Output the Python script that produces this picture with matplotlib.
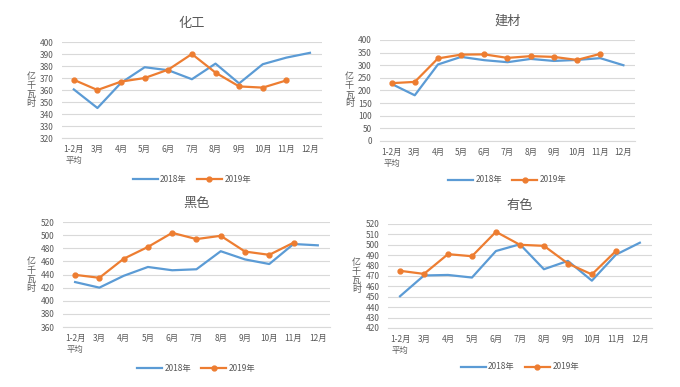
import numpy as np
from matplotlib import pyplot as plt

plt.rcParams['font.family'] = ['Noto Sans CJK SC', 'DejaVu Sans']

#%% data
months = ["1-2月\n平均", "3月", "4月", "5月", "6月", "7月", "8月", "9月", "10月", "11月", "12月"]

chem_2018 = [360.5, 345, 366, 379, 376.5, 369, 382, 365.5, 381.5, 387, 391]
chem_2019 = [368.5, 360, 367, 370, 377, 390, 374.5, 363, 362, 368]

build_2018 = [226, 181, 303, 333, 320, 312, 325, 317, 321, 328, 300]
build_2019 = [229, 234, 327, 342, 343, 329, 336, 333, 321, 345]

ferrous_2018 = [428.5, 420, 438, 451.5, 446.5, 448, 475.5, 463, 456, 486.5, 484.5]
ferrous_2019 = [439.5, 435, 464, 482, 503.5, 494, 499, 475, 470, 488.5]

nonferrous_2018 = [450.5, 470.5, 471, 468.5, 494, 500.5, 476.5, 484.5, 465.5, 490.5, 502]
nonferrous_2019 = [475, 472, 491, 489, 512.5, 500, 499, 482, 471.5, 494]

BLUE = '#5B9BD5'
ORANGE = '#ED7D31'
GRID = '#D9D9D9'
TXT = '#595959'

fig = plt.figure(figsize=(6.8, 3.87), dpi=100)

panels = [
    # title, rect, s2018, s2019, ylim, step, legend y (fig frac)
    ("化工", [0.0912, 0.6434, 0.382, 0.248], chem_2018, chem_2019, (320, 400), 10, 1 - 179/387),
    ("建材", [0.5588, 0.6357, 0.375, 0.261], build_2018, build_2019, (0, 400), 50, 1 - 180/387),
    ("黑色", [0.0926, 0.155, 0.3926, 0.2713], ferrous_2018, ferrous_2019, (360, 520), 20, 1 - 368/387),
    ("有色", [0.5706, 0.1525, 0.388, 0.2687], nonferrous_2018, nonferrous_2019, (420, 520), 10, 1 - 367/387),
]

for title, rect, s18, s19, ylim, step, leg_y in panels:
    ax = fig.add_axes(rect)
    x = np.arange(len(months))
    ax.plot(x, s18, color=BLUE, lw=1.6, label="2018年")
    ax.plot(x[:len(s19)], s19, color=ORANGE, lw=1.6, marker='o', ms=3.5, label="2019年")
    ax.set_xlim(-0.5, len(months) - 0.5)
    ax.set_ylim(*ylim)
    ax.set_yticks(np.arange(ylim[0], ylim[1] + step, step))
    ax.set_xticks(x)
    ax.set_xticklabels(months, fontsize=6, color=TXT, linespacing=1.3)
    ax.tick_params(axis='y', labelsize=6, labelcolor=TXT, length=0, pad=6)
    ax.tick_params(axis='x', length=0, pad=5)
    ax.grid(axis='y', color=GRID, lw=0.8)
    ax.set_axisbelow(True)
    for s in ['top', 'right', 'left']:
        ax.spines[s].set_visible(False)
    ax.spines['bottom'].set_color(GRID)
    ax.set_title(title, fontsize=9.5, color=TXT, pad=11)
    ax.text(-0.12, 0.5, "亿\n千\n瓦\n时", transform=ax.transAxes, fontsize=6.5,
            color=TXT, ha='center', va='center', linespacing=1.0)
    cx = rect[0] + rect[2] / 2
    fig.legend(*ax.get_legend_handles_labels(), loc='center', bbox_to_anchor=(cx, leg_y),
               ncol=2, frameon=False, fontsize=6, labelcolor=TXT, handlelength=3,
               columnspacing=1.2, handletextpad=0.3)

plt.savefig("out.png", dpi=100)
